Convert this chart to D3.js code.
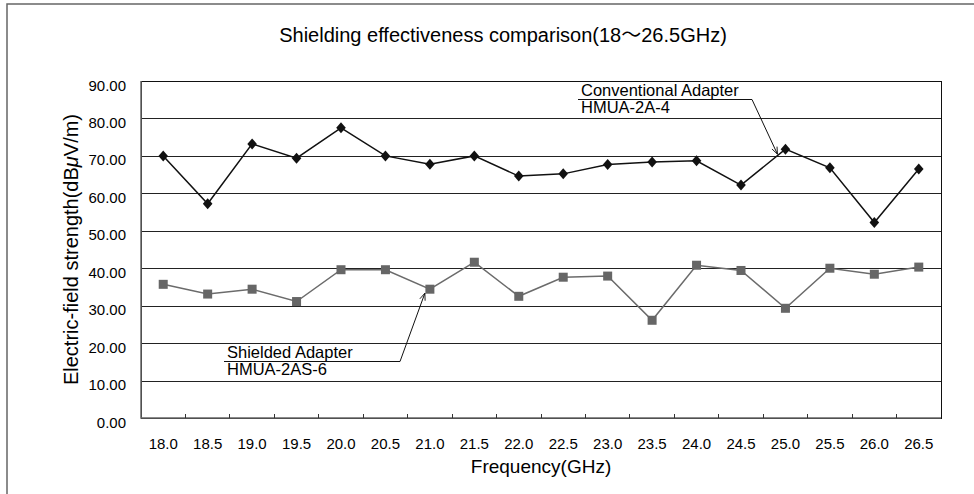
<!DOCTYPE html>
<html>
<head>
<meta charset="utf-8">
<script src="https://cdn.jsdelivr.net/npm/d3@7"></script>
<style>
  body { margin: 0; background: #fff; overflow: hidden; }
  text { font-family: "Liberation Sans", Arial, Helvetica, sans-serif; fill: #000; }
</style>
</head>
<body>
<div id="chart"></div>
<script>
// data
var frequencies = ["18.0", "18.5", "19.0", "19.5", "20.0", "20.5", "21.0", "21.5", "22.0",
                   "22.5", "23.0", "23.5", "24.0", "24.5", "25.0", "25.5", "26.0", "26.5"];
var conventional = [70.0, 57.2, 73.2, 69.4, 77.5, 70.0, 67.8, 70.0, 64.6,
                    65.2, 67.7, 68.4, 68.7, 62.2, 71.8, 66.8, 52.2, 66.5];
var shielded = [35.7, 33.1, 34.4, 31.1, 39.6, 39.6, 34.4, 41.6, 32.5,
                37.6, 37.9, 26.1, 40.8, 39.4, 29.3, 40.0, 38.4, 40.3];
var yTicks = [0, 10, 20, 30, 40, 50, 60, 70, 80, 90];

// set the dimensions and margins of the graph
var W = 974, H = 494;
var margin = { top: 81, right: 33, bottom: 76, left: 141 },
    width = W - margin.left - margin.right,
    height = H - margin.top - margin.bottom;

var svg = d3.select("#chart")
    .append("svg")
    .attr("width", W)
    .attr("height", H)
    .style("display", "block");

// outer frame (runs off the right and bottom)
svg.append("rect")
    .attr("x", 7).attr("y", 4)
    .attr("width", W + 20).attr("height", H + 20)
    .attr("fill", "none")
    .attr("stroke", "#666")
    .attr("stroke-width", 1.5);

// title
var title = svg.append("text")
    .attr("x", 503).attr("y", 42)
    .attr("text-anchor", "middle")
    .style("font-size", "20px");
title.append("tspan").text("Shielding effectiveness comparison(18");
title.append("tspan").style("font-family", "'Noto Sans CJK JP'").text("～");
title.append("tspan").text("26.5GHz)");

var g = svg.append("g")
    .attr("transform", "translate(" + margin.left + "," + margin.top + ")");

var x = d3.scaleBand()
    .domain(frequencies)
    .range([0, width])
    .padding(0);

var y = d3.scaleLinear()
    .domain([0, 90])
    .range([height, 0]);

// gridlines + y labels
var yAxis = g.append("g")
    .call(d3.axisLeft(y).tickValues(yTicks).tickSize(-width).tickFormat(d3.format(".2f")));
yAxis.select(".domain").remove();
yAxis.selectAll("line")
    .attr("stroke", "#222")
    .attr("shape-rendering", "crispEdges");
yAxis.selectAll("text")
    .attr("x", -15)
    .attr("dy", "0.6em")
    .style("font-size", "15px")
    .style("fill", "#000");

// plot border
g.append("rect")
    .attr("width", width).attr("height", height)
    .attr("fill", "none")
    .attr("stroke", "#111")
    .attr("shape-rendering", "crispEdges");
g.append("path")
    .attr("d", "M0,0V" + height + "H" + width)
    .attr("fill", "none")
    .attr("stroke", "#666")
    .attr("stroke-width", 1.5);

// x labels
var xAxis = g.append("g")
    .attr("transform", "translate(0," + height + ")")
    .call(d3.axisBottom(x).tickSize(0).tickPadding(20));
xAxis.select(".domain").remove();
xAxis.selectAll("text")
    .style("font-size", "15px")
    .style("fill", "#000");

// small inward ticks at category boundaries
g.append("g")
    .selectAll("line")
    .data(frequencies.slice(1))
    .enter()
    .append("line")
    .attr("x1", function (d) { return x(d); })
    .attr("x2", function (d) { return x(d); })
    .attr("y1", height)
    .attr("y2", height - 4)
    .attr("stroke", "#333")
    .attr("shape-rendering", "crispEdges");

// axis titles
svg.append("text")
    .attr("x", margin.left + width / 2).attr("y", 473)
    .attr("text-anchor", "middle")
    .style("font-size", "19px")
    .text("Frequency(GHz)");

var yt = svg.append("text")
    .attr("transform", "translate(78," + (margin.top + height / 2) + ") rotate(-90)")
    .attr("text-anchor", "middle")
    .style("font-size", "20px");
yt.append("tspan").text("Electric-field strength(dB");
yt.append("tspan").style("font-style", "italic").text("μ");
yt.append("tspan").text("V/m)");

var cx = function (d, i) { return x(frequencies[i]) + x.bandwidth() / 2; };

// shielded series
g.append("path")
    .datum(shielded)
    .attr("fill", "none")
    .attr("stroke", "#6b6b6b")
    .attr("stroke-width", 1.5)
    .attr("d", d3.line().x(cx).y(function (d) { return y(d); }));
g.append("g")
    .selectAll("rect")
    .data(shielded)
    .enter()
    .append("rect")
    .attr("x", function (d, i) { return cx(d, i) - 4.5; })
    .attr("y", function (d) { return y(d) - 4.5; })
    .attr("width", 9).attr("height", 9)
    .attr("fill", "#666");

// conventional series
g.append("path")
    .datum(conventional)
    .attr("fill", "none")
    .attr("stroke", "#111")
    .attr("stroke-width", 1.5)
    .attr("d", d3.line().x(cx).y(function (d) { return y(d); }));
g.append("g")
    .selectAll("path")
    .data(conventional)
    .enter()
    .append("path")
    .attr("transform", function (d, i) { return "translate(" + cx(d, i) + "," + y(d) + ")"; })
    .attr("d", "M0,-5.5L4.8,0L0,5.5L-4.8,0Z")
    .attr("fill", "#111");

// annotations
var defs = svg.append("defs");
defs.append("marker")
    .attr("id", "arrow")
    .attr("viewBox", "0 0 10 10")
    .attr("refX", 10).attr("refY", 5)
    .attr("markerWidth", 9).attr("markerHeight", 7)
    .attr("markerUnits", "userSpaceOnUse")
    .attr("orient", "auto")
    .append("path")
    .attr("d", "M0,1L10,5L0,9")
    .attr("fill", "none")
    .attr("stroke", "#111")
    .attr("stroke-width", 1.2);

function callout(lines, tx, ty, lineEnd, idx, series, dx, dy) {
    var px = margin.left + cx(series[idx], idx) + dx;
    var py = margin.top + y(series[idx]) + dy;
    svg.append("text").attr("x", tx).attr("y", ty).style("font-size", "16.5px").text(lines[0]);
    svg.append("text").attr("x", tx).attr("y", ty + 17).style("font-size", "16.5px").text(lines[1]);
    svg.append("path")
        .attr("d", "M" + (tx - 3) + "," + (ty + 3.5) + "H" + lineEnd + "L" + px + "," + py)
        .attr("fill", "none")
        .attr("stroke", "#111")
        .attr("stroke-width", 1)
        .attr("marker-end", "url(#arrow)");
}

callout(["Conventional Adapter", "HMUA-2A-4"], 581, 96, 752, 14, conventional, -8, 5);
callout(["Shielded Adapter", "HMUA-2AS-6"], 227, 358, 400, 6, shielded, -5, 4);
</script>
</body>
</html>
